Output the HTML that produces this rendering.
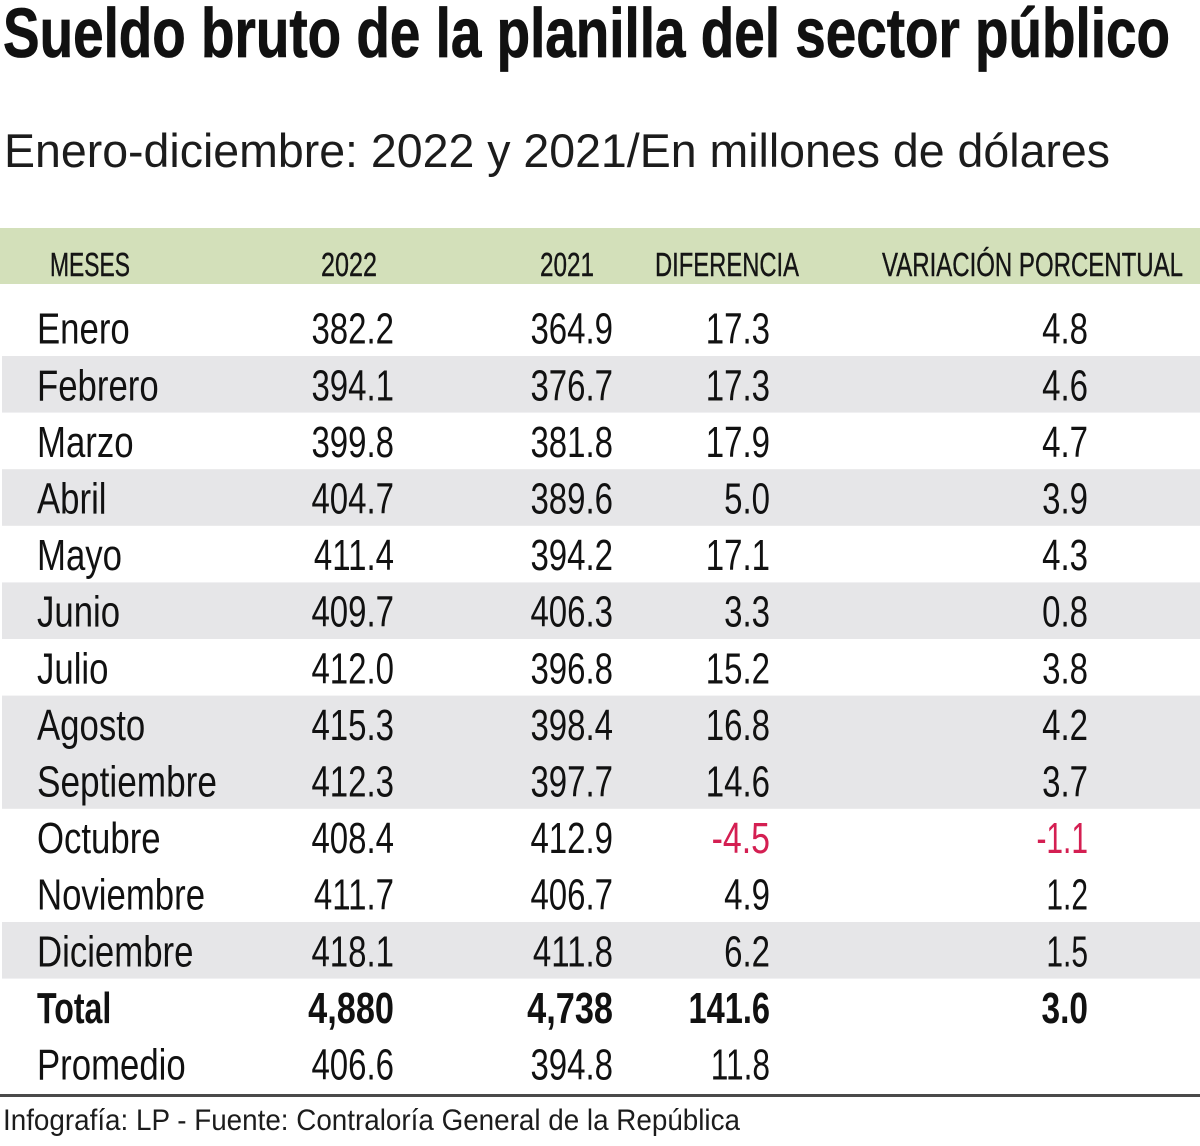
<!DOCTYPE html>
<html>
<head>
<meta charset="utf-8">
<style>
  html, body { margin: 0; padding: 0; background: #ffffff; }
  body { width: 1200px; height: 1146px; overflow: hidden; }
  svg { display: block; }
  text { font-family: "Liberation Sans", "DejaVu Sans", sans-serif; fill: #111111; }
  .t { font-weight: bold; font-size: 70px; stroke: #111111; stroke-width: 0.8px; }
  .s { font-size: 47px; fill: #1c1c1c; }
  .h { font-size: 33px; fill: #151515; stroke: #151515; stroke-width: 0.4px; }
  .m { font-size: 44px; }
  .n { font-size: 44px; text-anchor: end; }
  .b { font-weight: bold; }
  .r { fill: #d41f52; }
  .f { font-size: 30px; fill: #1c1c1c; }
</style>
</head>
<body>
<svg width="1200" height="1146" viewBox="0 0 1200 1146" xmlns="http://www.w3.org/2000/svg">
  <rect x="0" y="0" width="1200" height="1146" fill="#ffffff"/>

  <!-- Title -->
  <text class="t" x="3" y="57" textLength="1167" lengthAdjust="spacingAndGlyphs">Sueldo bruto de la planilla del sector público</text>
  <!-- Subtitle -->
  <text class="s" x="4" y="167" textLength="1106" lengthAdjust="spacingAndGlyphs">Enero-diciembre: 2022 y 2021/En millones de dólares</text>

  <!-- Header band -->
  <rect x="0" y="228" width="1200" height="56" fill="#d3e0ba"/>
  <text class="h" x="50" y="276" textLength="80" lengthAdjust="spacingAndGlyphs">MESES</text>
  <text class="h" x="321" y="276" textLength="56" lengthAdjust="spacingAndGlyphs">2022</text>
  <text class="h" x="540" y="276" textLength="54" lengthAdjust="spacingAndGlyphs">2021</text>
  <text class="h" x="655" y="276" textLength="144" lengthAdjust="spacingAndGlyphs">DIFERENCIA</text>
  <text class="h" x="882" y="276" textLength="301" lengthAdjust="spacingAndGlyphs">VARIACIÓN PORCENTUAL</text>

  <!-- Gray row bands -->
  <g fill="#e6e6e8">
    <rect x="2" y="356" width="1198" height="56.6"/>
    <rect x="2" y="469.2" width="1198" height="56.6"/>
    <rect x="2" y="582.4" width="1198" height="56.6"/>
    <rect x="2" y="695.6" width="1198" height="113.2"/>
    <rect x="2" y="922" width="1198" height="56.6"/>
  </g>

  <!-- Month labels -->
  <g>
    <text class="m" transform="translate(37,343.7) scale(0.79,1)">Enero</text>
    <text class="m" transform="translate(37,400.3) scale(0.79,1)">Febrero</text>
    <text class="m" transform="translate(37,456.9) scale(0.79,1)">Marzo</text>
    <text class="m" transform="translate(37,513.5) scale(0.79,1)">Abril</text>
    <text class="m" transform="translate(37,570.1) scale(0.79,1)">Mayo</text>
    <text class="m" transform="translate(37,626.7) scale(0.79,1)">Junio</text>
    <text class="m" transform="translate(37,683.3) scale(0.79,1)">Julio</text>
    <text class="m" transform="translate(37,739.9) scale(0.79,1)">Agosto</text>
    <text class="m" transform="translate(37,796.5) scale(0.80,1)">Septiembre</text>
    <text class="m" transform="translate(37,853.1) scale(0.79,1)">Octubre</text>
    <text class="m" transform="translate(37,909.7) scale(0.79,1)">Noviembre</text>
    <text class="m" transform="translate(37,966.3) scale(0.79,1)">Diciembre</text>
    <text class="m b" transform="translate(37,1022.9) scale(0.73,1)">Total</text>
    <text class="m" transform="translate(37,1079.5) scale(0.79,1)">Promedio</text>
  </g>

  <!-- 2022 column -->
  <g>
    <text class="n" transform="translate(394,343.7) scale(0.75,1)">382.2</text>
    <text class="n" transform="translate(394,400.3) scale(0.75,1)">394.1</text>
    <text class="n" transform="translate(394,456.9) scale(0.75,1)">399.8</text>
    <text class="n" transform="translate(394,513.5) scale(0.75,1)">404.7</text>
    <text class="n" transform="translate(394,570.1) scale(0.75,1)">411.4</text>
    <text class="n" transform="translate(394,626.7) scale(0.75,1)">409.7</text>
    <text class="n" transform="translate(394,683.3) scale(0.75,1)">412.0</text>
    <text class="n" transform="translate(394,739.9) scale(0.75,1)">415.3</text>
    <text class="n" transform="translate(394,796.5) scale(0.75,1)">412.3</text>
    <text class="n" transform="translate(394,853.1) scale(0.75,1)">408.4</text>
    <text class="n" transform="translate(394,909.7) scale(0.75,1)">411.7</text>
    <text class="n" transform="translate(394,966.3) scale(0.75,1)">418.1</text>
    <text class="n b" transform="translate(394,1022.9) scale(0.78,1)">4,880</text>
    <text class="n" transform="translate(394,1079.5) scale(0.75,1)">406.6</text>
  </g>

  <!-- 2021 column -->
  <g>
    <text class="n" transform="translate(613,343.7) scale(0.75,1)">364.9</text>
    <text class="n" transform="translate(613,400.3) scale(0.75,1)">376.7</text>
    <text class="n" transform="translate(613,456.9) scale(0.75,1)">381.8</text>
    <text class="n" transform="translate(613,513.5) scale(0.75,1)">389.6</text>
    <text class="n" transform="translate(613,570.1) scale(0.75,1)">394.2</text>
    <text class="n" transform="translate(613,626.7) scale(0.75,1)">406.3</text>
    <text class="n" transform="translate(613,683.3) scale(0.75,1)">396.8</text>
    <text class="n" transform="translate(613,739.9) scale(0.75,1)">398.4</text>
    <text class="n" transform="translate(613,796.5) scale(0.75,1)">397.7</text>
    <text class="n" transform="translate(613,853.1) scale(0.75,1)">412.9</text>
    <text class="n" transform="translate(613,909.7) scale(0.75,1)">406.7</text>
    <text class="n" transform="translate(613,966.3) scale(0.75,1)">411.8</text>
    <text class="n b" transform="translate(613,1022.9) scale(0.78,1)">4,738</text>
    <text class="n" transform="translate(613,1079.5) scale(0.75,1)">394.8</text>
  </g>

  <!-- Diferencia column -->
  <g>
    <text class="n" transform="translate(770,343.7) scale(0.75,1)">17.3</text>
    <text class="n" transform="translate(770,400.3) scale(0.75,1)">17.3</text>
    <text class="n" transform="translate(770,456.9) scale(0.75,1)">17.9</text>
    <text class="n" transform="translate(770,513.5) scale(0.75,1)">5.0</text>
    <text class="n" transform="translate(770,570.1) scale(0.75,1)">17.1</text>
    <text class="n" transform="translate(770,626.7) scale(0.75,1)">3.3</text>
    <text class="n" transform="translate(770,683.3) scale(0.75,1)">15.2</text>
    <text class="n" transform="translate(770,739.9) scale(0.75,1)">16.8</text>
    <text class="n" transform="translate(770,796.5) scale(0.75,1)">14.6</text>
    <text class="n r" transform="translate(770,853.1) scale(0.77,1)">-4.5</text>
    <text class="n" transform="translate(770,909.7) scale(0.75,1)">4.9</text>
    <text class="n" transform="translate(770,966.3) scale(0.75,1)">6.2</text>
    <text class="n b" transform="translate(770,1022.9) scale(0.74,1)">141.6</text>
    <text class="n" transform="translate(770,1079.5) scale(0.72,1)">11.8</text>
  </g>

  <!-- Variación column -->
  <g>
    <text class="n" transform="translate(1088,343.7) scale(0.75,1)">4.8</text>
    <text class="n" transform="translate(1088,400.3) scale(0.75,1)">4.6</text>
    <text class="n" transform="translate(1088,456.9) scale(0.75,1)">4.7</text>
    <text class="n" transform="translate(1088,513.5) scale(0.75,1)">3.9</text>
    <text class="n" transform="translate(1088,570.1) scale(0.75,1)">4.3</text>
    <text class="n" transform="translate(1088,626.7) scale(0.75,1)">0.8</text>
    <text class="n" transform="translate(1088,683.3) scale(0.75,1)">3.8</text>
    <text class="n" transform="translate(1088,739.9) scale(0.75,1)">4.2</text>
    <text class="n" transform="translate(1088,796.5) scale(0.75,1)">3.7</text>
    <text class="n r" transform="translate(1088,853.1) scale(0.68,1)">-1.1</text>
    <text class="n" transform="translate(1088,909.7) scale(0.68,1)">1.2</text>
    <text class="n" transform="translate(1088,966.3) scale(0.68,1)">1.5</text>
    <text class="n b" transform="translate(1088,1022.9) scale(0.76,1)">3.0</text>
  </g>

  <!-- Bottom rule -->
  <rect x="0" y="1094" width="1200" height="3" fill="#4a4a4a"/>

  <!-- Footer -->
  <text class="f" x="3" y="1130" textLength="737" lengthAdjust="spacingAndGlyphs">Infografía: LP - Fuente: Contraloría General de la República</text>
</svg>
</body>
</html>
